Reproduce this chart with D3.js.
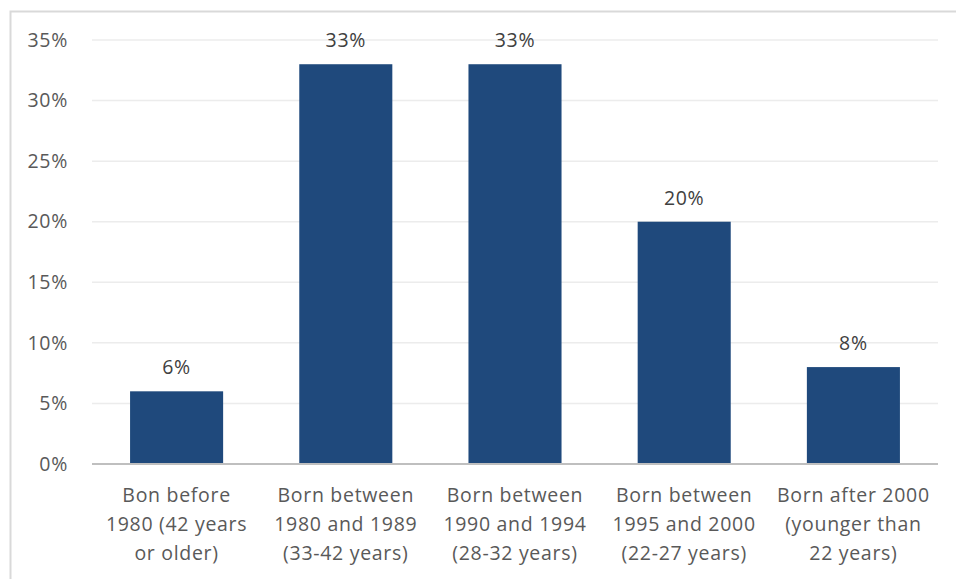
<!DOCTYPE html>
<html>
<head>
<meta charset="utf-8">
<script src="https://cdn.jsdelivr.net/npm/d3@7"></script>
<style>
  html, body { margin: 0; padding: 0; background: #fff; }
  svg { display: block; font-family: "Open Sans", sans-serif; }
  text { letter-spacing: 0.7px; }
</style>
</head>
<body>
<svg id="chart" width="956" height="579"></svg>
<script>
// Age groups of respondents and their share (%)
const categories = [
  ["Bon before", "1980 (42 years", "or older)"],
  ["Born between", "1980 and 1989", "(33-42 years)"],
  ["Born between", "1990 and 1994", "(28-32 years)"],
  ["Born between", "1995 and 2000", "(22-27 years)"],
  ["Born after 2000", "(younger than", "22 years)"]
];
const values = [6, 33, 33, 20, 8];
const yTicks = [0, 5, 10, 15, 20, 25, 30, 35];

const FONT = "'Open Sans', sans-serif";
const FS = 19.5;

const svg = d3.select("#chart");
const W = 956, H = 579;
const plot = { left: 92, right: 938, top: 40, bottom: 464 };

// Outer frame
svg.append("path")
  .attr("d", `M10.5,${H} V11.5 H${W}`)
  .attr("fill", "none").attr("stroke", "#d9d9d9").attr("stroke-width", 2);

const x = d3.scaleBand()
  .domain(d3.range(categories.length))
  .range([plot.left, plot.right])
  .paddingInner(0.45).paddingOuter(0.225);

const y = d3.scaleLinear().domain([0, 35]).range([plot.bottom, plot.top]);

// Gridlines
svg.append("g").selectAll("line").data(yTicks.filter(d => d > 0)).join("line")
  .attr("x1", plot.left).attr("x2", plot.right)
  .attr("y1", d => y(d)).attr("y2", d => y(d))
  .attr("stroke", "#ececec").attr("stroke-width", 1.5);

// Y axis labels
const yAxis = d3.axisLeft(y).tickValues(yTicks).tickFormat(d => d + "%").tickSize(0).tickPadding(0);
const gy = svg.append("g").attr("transform", `translate(68,0)`).call(yAxis);
gy.select(".domain").remove();
gy.selectAll("text").attr("fill", "#595959").attr("font-size", FS).attr("font-family", FONT);

// Bars
svg.append("g").selectAll("rect").data(values).join("rect")
  .attr("x", (d, i) => x(i)).attr("width", x.bandwidth())
  .attr("y", d => y(d)).attr("height", d => y(0) - y(d))
  .attr("fill", "#1f497c");

// Value labels
svg.append("g").selectAll("text").data(values).join("text")
  .attr("x", (d, i) => x(i) + x.bandwidth() / 2)
  .attr("y", d => y(d) - 17)
  .attr("text-anchor", "middle").attr("fill", "#404040").attr("font-size", FS)
  .text(d => d + "%");

// Baseline
svg.append("line")
  .attr("x1", plot.left).attr("x2", plot.right)
  .attr("y1", y(0)).attr("y2", y(0))
  .attr("stroke", "#bfbfbf").attr("stroke-width", 2);

// Category labels
const gx = svg.append("g");
categories.forEach((lines, i) => {
  const t = gx.append("text")
    .attr("text-anchor", "middle").attr("fill", "#595959").attr("font-size", FS);
  lines.forEach((ln, j) => {
    t.append("tspan").attr("x", x(i) + x.bandwidth() / 2).attr("y", 502 + j * 29).text(ln);
  });
});
</script>
</body>
</html>
